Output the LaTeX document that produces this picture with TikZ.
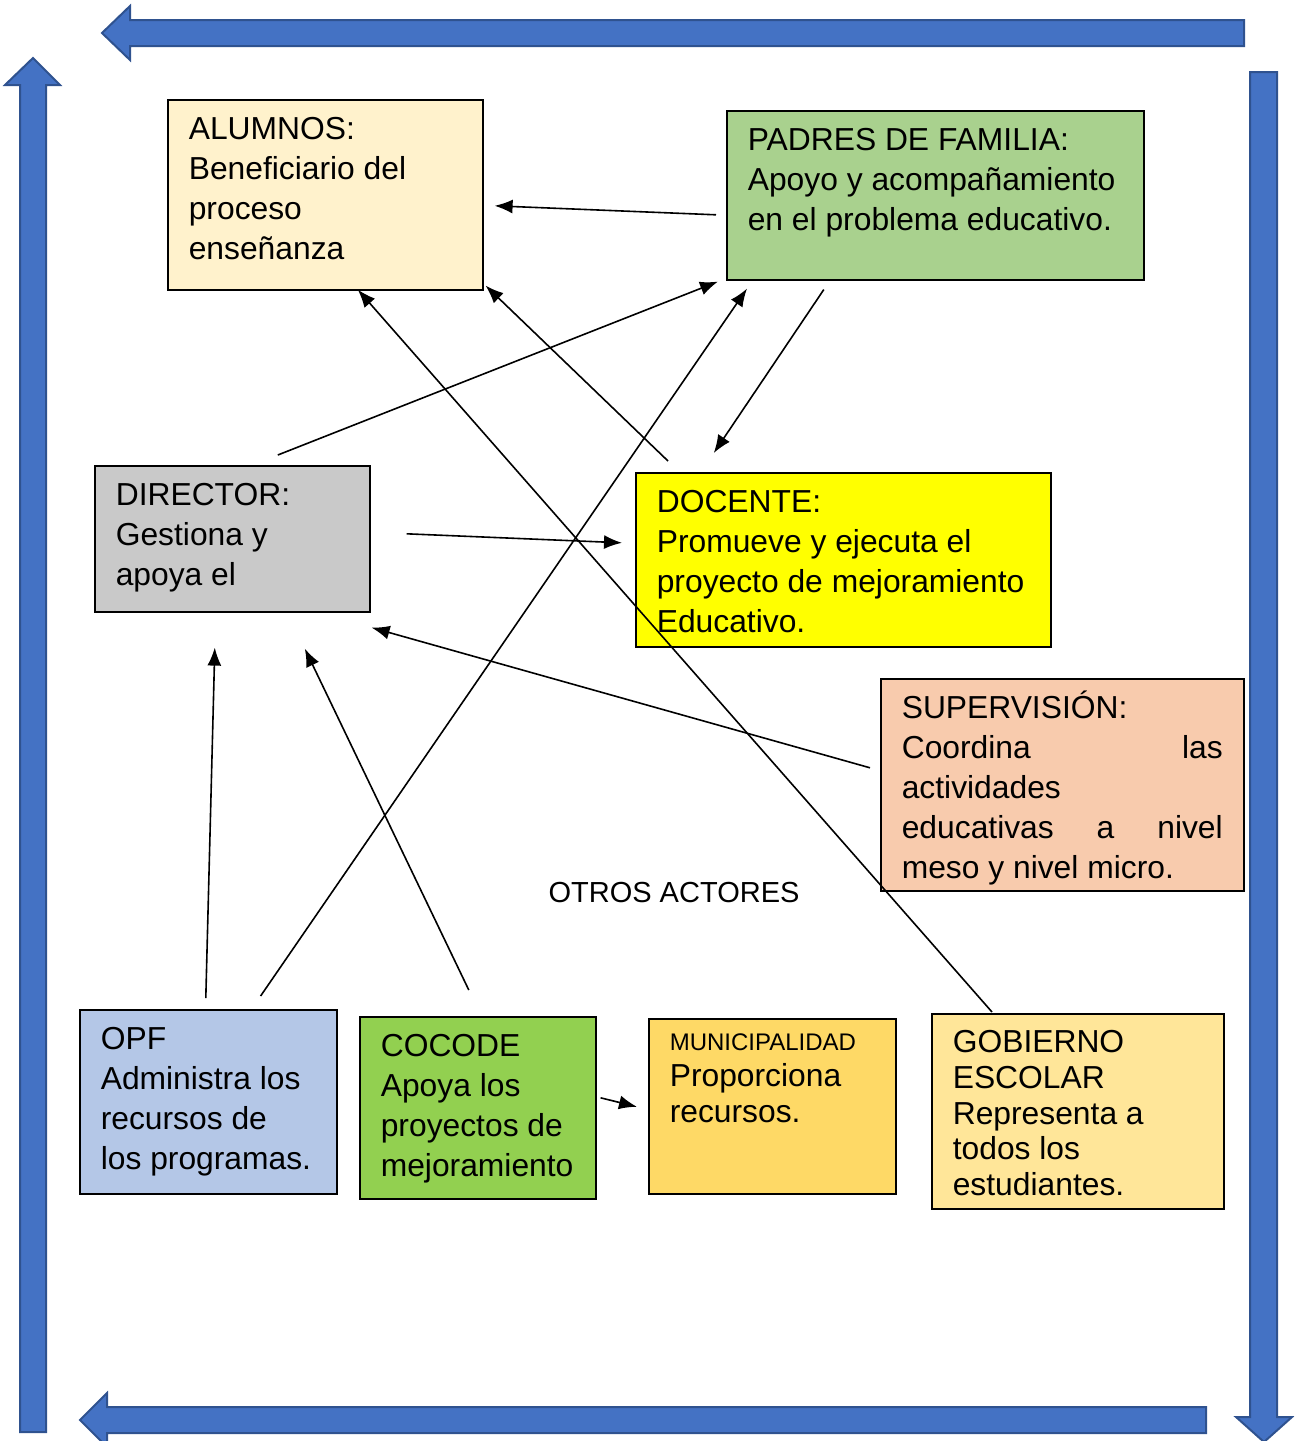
\documentclass[tikz,border=0pt]{standalone}
\usepackage{fontspec}
\setmainfont{Liberation Sans}
\usetikzlibrary{arrows.meta}

\definecolor{cyclefill}{HTML}{4472C4}
\definecolor{cycleedge}{HTML}{2F528F}
\definecolor{alumnoscol}{HTML}{FFF2CC}
\definecolor{padrescol}{HTML}{A9D18E}
\definecolor{directorcol}{HTML}{C9C9C9}
\definecolor{docentecol}{HTML}{FFFF00}
\definecolor{supcol}{HTML}{F8CBAD}
\definecolor{opfcol}{HTML}{B4C7E7}
\definecolor{cocodecol}{HTML}{92D050}
\definecolor{municol}{HTML}{FED966}
\definecolor{gobcol}{HTML}{FFE699}

\tikzset{
    actor/.style={draw=black, line width=1.6pt, anchor=north west,
        inner xsep=21pt, inner ysep=12pt, font=\fontsize{31.8}{40}\selectfont},
    link/.style={line width=1.6pt, -{Latex[length=18pt,width=14pt]}},
    cycle/.style={fill=cyclefill, draw=cycleedge, line width=2pt},
}

% text block of an actor box: [first baseline]{width}{height}{text}
\newcommand{\actortext}[4][28pt]{\parbox[c][#3][t]{#2}{\hyphenpenalty=10000\rule{0pt}{#1}#4}}

\begin{document}
\begin{tikzpicture}[x=1pt,y=-1pt]

    \clip (0,0) rectangle (1294,1441);

    % cycle arrows
    \fill[cycle] (102,33) -- (130,6) -- (130,20) -- (1244,20) -- (1244,46)
        -- (130,46) -- (130,60) -- cycle;
    \fill[cycle] (1250,72) -- (1277,72) -- (1277,1417) -- (1292,1417)
        -- (1264,1442) -- (1236,1417) -- (1250,1417) -- cycle;
    \fill[cycle] (1206,1407) -- (1206,1433) -- (107,1433) -- (107,1447)
        -- (80,1420) -- (107,1393) -- (107,1407) -- cycle;
    \fill[cycle] (20,1432) -- (20,85) -- (5,85) -- (33,58) -- (60,85)
        -- (46,85) -- (46,1432) -- cycle;

    % actors
    \node[actor, fill=alumnoscol] (alumnos) at (167,99)
        {\actortext{273pt}{166pt}{ALUMNOS:\\ Beneficiario del\\ proceso\\ enseñanza}};
    \node[actor, fill=padrescol] (padres) at (726,110)
        {\actortext{375pt}{145pt}{PADRES DE FAMILIA:\\ Apoyo y acompañamiento\\ en el problema educativo.}};
    \node[actor, fill=directorcol] (director) at (94,465)
        {\actortext{233pt}{122pt}{DIRECTOR:\\ Gestiona y\\ apoya el}};
    \node[actor, fill=docentecol] (docente) at (635,472)
        {\actortext{373pt}{150pt}{DOCENTE:\\ Promueve y ejecuta el\\ proyecto de mejoramiento\\ Educativo.}};
    \node[actor, fill=supcol] (sup) at (880,678)
        {\actortext{321pt}{188pt}{SUPERVISIÓN:\\ Coordina\hfill las\\ actividades\\
        educativas\hfill a\hfill nivel\\ meso y nivel micro.}};

    % otros actores
    \node[font=\fontsize{29}{34}\selectfont] (otros) at (674,893) {OTROS ACTORES};
    \node[actor, fill=opfcol] (opf) at (79,1009)
        {\actortext{215pt}{160pt}{OPF\\ Administra los\\ recursos de\\ los programas.}};
    \node[actor, fill=cocodecol] (cocode) at (359,1016)
        {\actortext{194pt}{158pt}{COCODE\\ Apoya los\\ proyectos de\\ mejoramiento}};
    \node[actor, fill=municol, font=\fontsize{31.8}{36}\selectfont] (muni) at (648,1018)
        {\actortext[20pt]{205pt}{151pt}{{\fontsize{24}{30}\selectfont MUNICIPALIDAD}\\ Proporciona\\ recursos.}};
    \node[actor, fill=gobcol, font=\fontsize{31.8}{35.7}\selectfont] (gob) at (931,1013)
        {\actortext[27pt]{250pt}{171pt}{GOBIERNO\\ ESCOLAR\\ Representa a\\ todos los\\ estudiantes.}};

    % links
    \draw[link] ([shift={(-10,19.5)}]padres.west) -- ([shift={(11,11)}]alumnos.east);
    \draw[link] ([shift={(45.5,-10)}]director.north) -- ([shift={(-8,1)}]padres.south west);
    \draw[link] ([shift={(33,-11)}]docente.north west) -- ([shift={(2,-5)}]alumnos.south east);
    \draw[link] ([shift={(-111.5,9)}]padres.south) -- ([shift={(-129.5,-19)}]docente.north);
    \draw[link] ([shift={(36,-5)}]director.east) -- ([shift={(-13,-17)}]docente.west);
    \draw[link] ([shift={(-10,-17)}]sup.west) -- ([shift={(1,15)}]director.south east);
    \draw[link] ([shift={(-2.5,-11)}]opf.north) -- ([shift={(-17.5,35)}]director.south);
    \draw[link] ([shift={(-77,-13)}]opf.north east) -- ([shift={(21,8)}]padres.south west);
    \draw[link] ([shift={(-9,-26)}]cocode.north) -- ([shift={(72.5,36)}]director.south);
    \draw[link] ([shift={(61,-1)}]gob.north west) -- ([shift={(32.5,-1)}]alumnos.south);
    \draw[link] ([shift={(4,-10)}]cocode.east) -- ([shift={(-11,0.5)}]muni.west);

\end{tikzpicture}
\end{document}
